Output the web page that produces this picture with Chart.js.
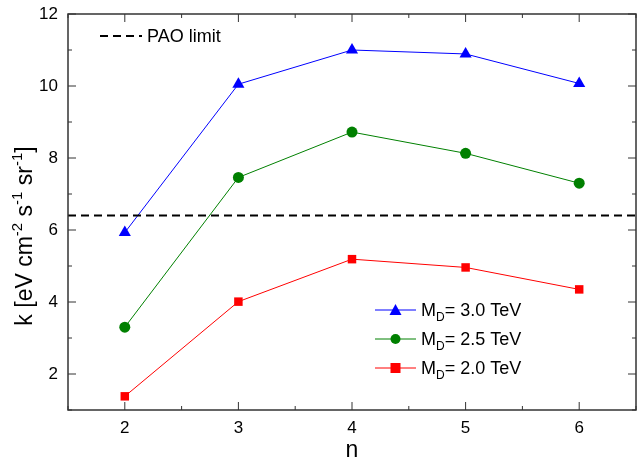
<!DOCTYPE html>
<html>
<head>
<meta charset="utf-8">
<script src="https://cdn.jsdelivr.net/npm/chart.js@4"></script>
<style>
html, body { margin: 0; padding: 0; background: #fff; }
#wrap { width: 637px; height: 462px; }
</style>
</head>
<body>
<div id="wrap"><canvas id="chart" width="637" height="462"></canvas></div>
<script>
var nValues = [2, 3, 4, 5, 6];
var k30 = [5.93, 10.05, 11.0, 10.89, 10.07];
var k25 = [3.30, 7.46, 8.72, 8.13, 7.30];
var k20 = [1.38, 4.01, 5.19, 4.96, 4.35];
var paoLimit = 6.4;
var xTicks = [2, 3, 4, 5, 6];
var yTicks = [2, 4, 6, 8, 10, 12];

var FONT = 'Arial, "Liberation Sans", sans-serif';

var toPoints = function(ys) {
	return nValues.map(function(n, i) { return { x: n, y: ys[i] }; });
};

// frame with inward ticks on all four sides, plus tick labels
var framePlugin = {
	id: 'frame',
	afterDatasetsDraw: function(chart) {
		var c = chart.ctx, a = chart.chartArea;
		var xs = chart.scales.x, ys = chart.scales.y;
		c.save();
		c.strokeStyle = '#333';
		c.lineWidth = 1.5;
		c.strokeRect(a.left, a.top, a.right - a.left, a.bottom - a.top);
		c.lineWidth = 1;
		c.beginPath();
		for (var v = 1.5; v <= 6.5; v += 0.5) {
			var len = (v % 1 === 0) ? 8 : 4;
			var px = xs.getPixelForValue(v);
			c.moveTo(px, a.bottom); c.lineTo(px, a.bottom - len);
			c.moveTo(px, a.top); c.lineTo(px, a.top + len);
		}
		for (var w = 1; w <= 12; w += 1) {
			var l2 = (w % 2 === 0) ? 8 : 4;
			var py = ys.getPixelForValue(w);
			c.moveTo(a.left, py); c.lineTo(a.left + l2, py);
			c.moveTo(a.right, py); c.lineTo(a.right - l2, py);
		}
		c.stroke();

		c.fillStyle = '#000';
		c.font = '17px ' + FONT;
		c.textBaseline = 'middle';
		c.textAlign = 'right';
		ys.ticks.forEach(function(t) {
			c.fillText(String(t.value), a.left - 10, ys.getPixelForValue(t.value));
		});
		c.textAlign = 'center';
		xs.ticks.forEach(function(t) {
			c.fillText(String(t.value), xs.getPixelForValue(t.value), a.bottom + 18);
		});
		c.restore();
	}
};

// legend and y axis title with sub/superscripts
var textPlugin = {
	id: 'texts',
	afterDraw: function(chart) {
		var c = chart.ctx;
		c.save();
		c.fillStyle = '#000';
		c.textBaseline = 'alphabetic';

		// PAO legend
		c.strokeStyle = '#000';
		c.lineWidth = 2;
		c.setLineDash([8, 5]);
		c.beginPath(); c.moveTo(100, 36); c.lineTo(142, 36); c.stroke();
		c.setLineDash([]);
		c.font = '18px ' + FONT;
		c.fillText('PAO limit', 147, 42);

		var rows = [
			{ y: 310, color: 'blue', shape: 'triangle', val: '3.0' },
			{ y: 339, color: 'green', shape: 'circle', val: '2.5' },
			{ y: 368, color: 'red', shape: 'square', val: '2.0' }
		];
		rows.forEach(function(r) {
			c.strokeStyle = r.color;
			c.fillStyle = r.color;
			c.lineWidth = 1;
			c.beginPath(); c.moveTo(375, r.y); c.lineTo(416, r.y); c.stroke();
			c.beginPath();
			if (r.shape === 'triangle') {
				c.moveTo(395.5, r.y - 6); c.lineTo(401.5, r.y + 5); c.lineTo(389.5, r.y + 5); c.closePath();
			} else if (r.shape === 'circle') {
				c.arc(395.5, r.y, 5, 0, Math.PI * 2);
			} else {
				c.rect(390.5, r.y - 5, 10, 10);
			}
			c.fill();
			c.fillStyle = '#000';
			c.font = '18px ' + FONT;
			c.fillText('M', 421, r.y + 6);
			var mw = c.measureText('M').width;
			c.font = '12px ' + FONT;
			c.fillText('D', 421 + mw, r.y + 11);
			var dw = c.measureText('D').width;
			c.font = '18px ' + FONT;
			c.fillText('= ' + r.val + ' TeV', 421 + mw + dw, r.y + 6);
		});

		// y axis title
		c.translate(32, 236);
		c.rotate(-Math.PI / 2);
		var parts = [
			['k [eV cm', 23, 0], ['-2', 15, -10], [' s', 23, 0], ['-1', 15, -10],
			[' sr', 23, 0], ['-1', 15, -10], [']', 23, 0]
		];
		var total = 0;
		parts.forEach(function(p) { c.font = p[1] + 'px ' + FONT; total += c.measureText(p[0]).width; });
		var x = -total / 2;
		parts.forEach(function(p) {
			c.font = p[1] + 'px ' + FONT;
			c.fillText(p[0], x, p[2]);
			x += c.measureText(p[0]).width;
		});
		c.restore();
	}
};

var ctx = document.getElementById('chart');
var chart = new Chart(ctx, {
	type: 'line',
	data: {
		datasets: [{
			label: 'PAO limit',
			data: [{ x: 1.5, y: paoLimit }, { x: 6.5, y: paoLimit }],
			borderColor: '#000',
			borderWidth: 2,
			borderDash: [8, 5],
			pointRadius: 0
		}, {
			label: 'MD= 3.0 TeV',
			data: toPoints(k30),
			borderColor: 'blue',
			backgroundColor: 'blue',
			borderWidth: 1,
			pointStyle: 'triangle',
			pointRadius: 7,
			pointBorderWidth: 0
		}, {
			label: 'MD= 2.5 TeV',
			data: toPoints(k25),
			borderColor: 'green',
			backgroundColor: 'green',
			borderWidth: 1,
			pointStyle: 'circle',
			pointRadius: 5.5,
			pointBorderWidth: 0
		}, {
			label: 'MD= 2.0 TeV',
			data: toPoints(k20),
			borderColor: 'red',
			backgroundColor: 'red',
			borderWidth: 1,
			pointStyle: 'rect',
			pointRadius: 6,
			pointBorderWidth: 0
		}]
	},
	options: {
		responsive: false,
		animation: false,
		layout: { autoPadding: false, padding: { top: 14, right: 1, left: 0, bottom: 0 } },
		plugins: {
			legend: { display: false },
			tooltip: { enabled: false }
		},
		scales: {
			x: {
				type: 'linear',
				min: 1.5,
				max: 6.5,
				afterBuildTicks: function(scale) {
					scale.ticks = xTicks.map(function(v) { return { value: v }; });
				},
				afterFit: function(scale) {
					scale.height = 52;
					scale.paddingLeft = 0;
					scale.paddingRight = 0;
				},
				grid: { display: false },
				border: { display: false },
				ticks: { display: false },
				title: {
					display: true,
					text: 'n',
					color: '#000',
					padding: { top: 0, bottom: 0 },
					font: { family: FONT, size: 23, lineHeight: 1 }
				}
			},
			y: {
				type: 'linear',
				min: 1,
				max: 12,
				afterBuildTicks: function(scale) {
					scale.ticks = yTicks.map(function(v) { return { value: v }; });
				},
				afterFit: function(scale) {
					scale.width = 68;
					scale.paddingTop = 0;
					scale.paddingBottom = 0;
				},
				grid: { display: false },
				border: { display: false },
				ticks: { display: false }
			}
		}
	},
	plugins: [framePlugin, textPlugin]
});
</script>
</body>
</html>
